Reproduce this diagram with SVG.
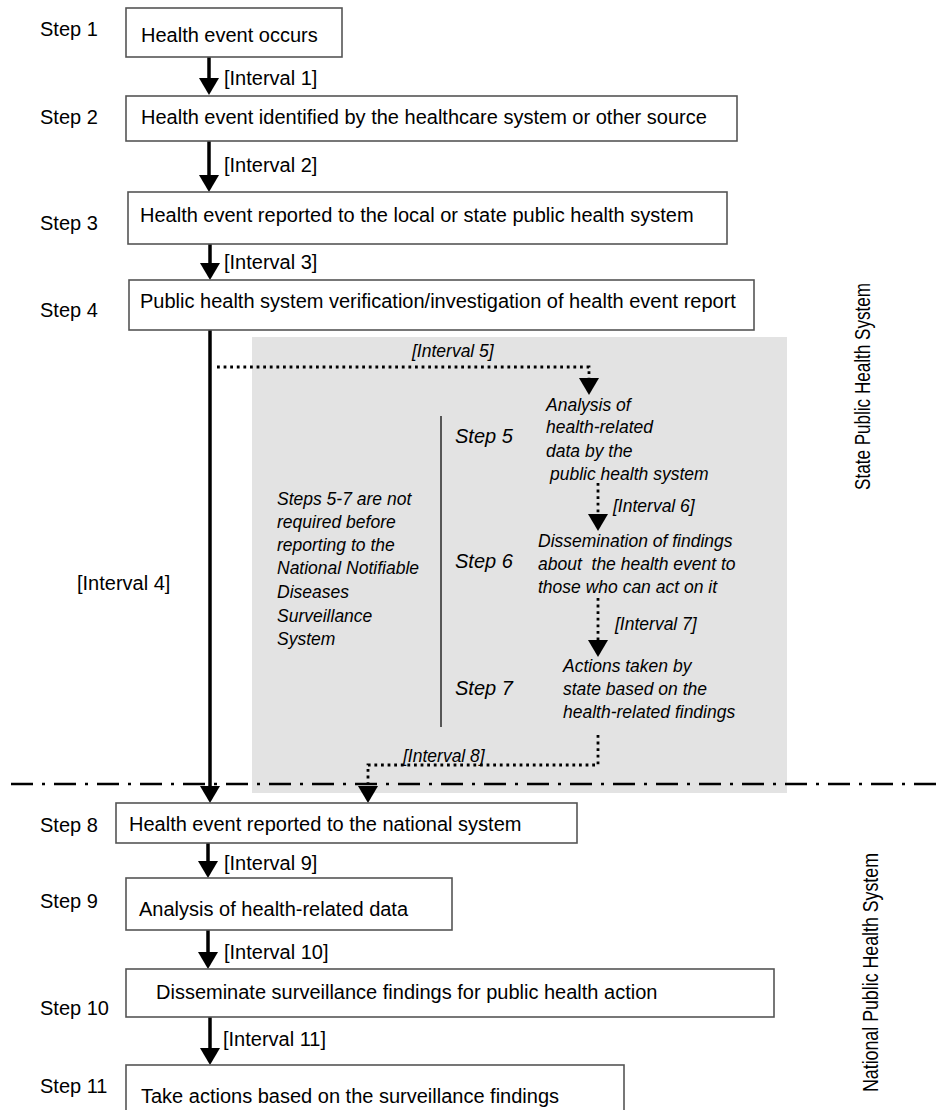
<svg xmlns="http://www.w3.org/2000/svg" width="940" height="1110" viewBox="0 0 940 1110">
<style>
.box{fill:#fff;stroke:#555;stroke-width:1.6}
.t{font-family:"Liberation Sans",Arial,sans-serif;font-size:20px;fill:#000}
.v{font-family:"Liberation Sans",Arial,sans-serif;font-size:21.5px;fill:#000}
.si{font-family:"Liberation Sans",Arial,sans-serif;font-size:20px;font-style:italic;fill:#000}
.i{font-family:"Liberation Sans",Arial,sans-serif;font-size:17.5px;font-style:italic;fill:#000}
.solid{fill:none;stroke:#000;stroke-width:3.5}
.dot{fill:none;stroke:#000;stroke-width:2.8;stroke-dasharray:2.8 3.8}
</style>
<defs>
<marker id="ah" viewBox="0 -10 17 20" refX="0" refY="0" markerWidth="17" markerHeight="20" markerUnits="userSpaceOnUse" orient="auto">
<path d="M0,-10 L17,0 L0,10 Z" fill="#000"/>
</marker>
</defs>
<rect id="state-region" x="252" y="337" width="535" height="456" fill="#e3e3e3"/>
<line x1="11" y1="784" x2="940" y2="784" stroke="#000" stroke-width="2.5" stroke-dasharray="22 9 3 9"/>
<g id="labels">
<text class="t" x="40" y="36">Step 1</text>
<text class="t" x="40" y="124">Step 2</text>
<text class="t" x="40" y="230">Step 3</text>
<text class="t" x="40" y="317">Step 4</text>
<text class="t" x="40" y="832">Step 8</text>
<text class="t" x="40" y="908">Step 9</text>
<text class="t" x="40" y="1015">Step 10</text>
<text class="t" x="40" y="1093">Step 11</text>
<text class="v" transform="translate(870,386.5) rotate(-90)" text-anchor="middle" textLength="207" lengthAdjust="spacingAndGlyphs">State Public Health System</text>
<text class="v" transform="translate(878,972.5) rotate(-90)" text-anchor="middle" textLength="239" lengthAdjust="spacingAndGlyphs">National Public Health System</text>
</g>
<g id="connectors">
<line class="solid" x1="209" y1="57" x2="209" y2="78" marker-end="url(#ah)"/>
<line class="solid" x1="209" y1="141" x2="209" y2="175" marker-end="url(#ah)"/>
<line class="solid" x1="210" y1="244" x2="210" y2="263" marker-end="url(#ah)"/>
<line class="solid" x1="210" y1="330" x2="210" y2="786" marker-end="url(#ah)"/>
<line class="solid" x1="208" y1="843" x2="208" y2="861" marker-end="url(#ah)"/>
<line class="solid" x1="208" y1="930" x2="208" y2="952" marker-end="url(#ah)"/>
<line class="solid" x1="210" y1="1017" x2="210" y2="1048" marker-end="url(#ah)"/>
<path class="dot" d="M217,367 H589 V378" marker-end="url(#ah)"/>
<path class="dot" d="M598,483 V514" marker-end="url(#ah)"/>
<path class="dot" d="M598,598 V640" marker-end="url(#ah)"/>
<path class="dot" d="M598,735 V765 H368 V786" marker-end="url(#ah)"/>
<line x1="441" y1="416" x2="441" y2="727" stroke="#333" stroke-width="1.6"/>
<text class="t" x="224" y="85">[Interval 1]</text>
<text class="t" x="224" y="172">[Interval 2]</text>
<text class="t" x="224" y="269">[Interval 3]</text>
<text class="t" x="77" y="590">[Interval 4]</text>
<text class="i" x="412" y="357">[Interval 5]</text>
<text class="i" x="613" y="512">[Interval 6]</text>
<text class="i" x="615" y="630">[Interval 7]</text>
<text class="i" x="403" y="762">[Interval 8]</text>
<text class="t" x="224" y="870">[Interval 9]</text>
<text class="t" x="224" y="959">[Interval 10]</text>
<text class="t" x="223" y="1046">[Interval 11]</text>
</g>
<g id="step1"><rect class="box" x="126" y="8" width="216" height="49"/><text class="t" x="141" y="42">Health event occurs</text></g>
<g id="step2"><rect class="box" x="126" y="96" width="611" height="45"/><text class="t" x="141" y="124">Health event identified by the healthcare system or other source</text></g>
<g id="step3"><rect class="box" x="128" y="192" width="599" height="52"/><text class="t" x="140" y="222">Health event reported to the local or state public health system</text></g>
<g id="step4"><rect class="box" x="129" y="280" width="625" height="50"/><text class="t" x="140" y="308">Public health system verification/investigation of health event report</text></g>
<g id="note">
<text class="i" x="277" y="505">Steps 5-7 are not</text>
<text class="i" x="277" y="528">required before</text>
<text class="i" x="277" y="551">reporting to the</text>
<text class="i" x="277" y="574">National Notifiable</text>
<text class="i" x="277" y="598">Diseases</text>
<text class="i" x="277" y="622">Surveillance</text>
<text class="i" x="277" y="645">System</text>
</g>
<g id="step5">
<text class="si" x="455" y="443">Step 5</text>
<text class="i" x="546" y="411">Analysis of</text>
<text class="i" x="546" y="433">health-related</text>
<text class="i" x="546" y="457">data by the</text>
<text class="i" x="550" y="480">public health system</text>
</g>
<g id="step6">
<text class="si" x="455" y="568">Step 6</text>
<text class="i" x="538" y="547">Dissemination of findings</text>
<text class="i" x="538" y="570" xml:space="preserve">about  the health event to</text>
<text class="i" x="538" y="593">those who can act on it</text>
</g>
<g id="step7">
<text class="si" x="455" y="695">Step 7</text>
<text class="i" x="563" y="672">Actions taken by</text>
<text class="i" x="563" y="695">state based on the</text>
<text class="i" x="563" y="718">health-related findings</text>
</g>
<g id="step8"><rect class="box" x="116" y="803" width="461" height="40"/><text class="t" x="129" y="831">Health event reported to the national system</text></g>
<g id="step9"><rect class="box" x="126" y="878" width="326" height="52"/><text class="t" x="139" y="916">Analysis of health-related data</text></g>
<g id="step10"><rect class="box" x="126" y="969" width="648" height="48"/><text class="t" x="156" y="999">Disseminate surveillance findings for public health action</text></g>
<g id="step11"><rect class="box" x="126" y="1065" width="498" height="60"/><text class="t" x="141" y="1103">Take actions based on the surveillance findings</text></g>
</svg>
